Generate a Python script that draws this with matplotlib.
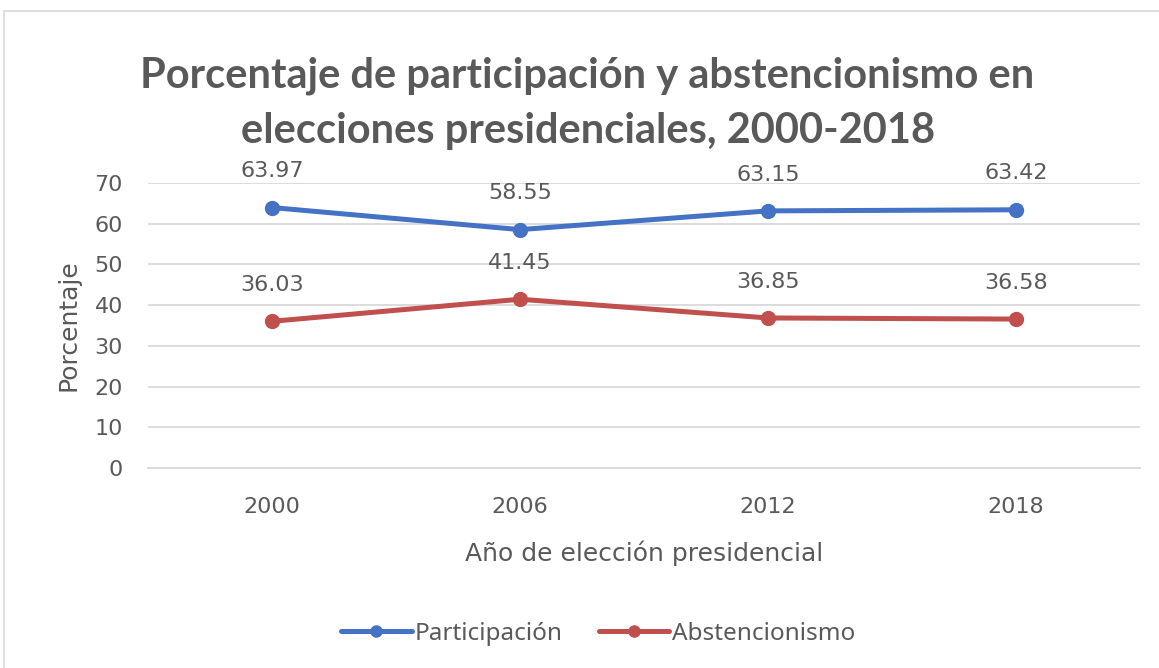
import matplotlib
matplotlib.use("Agg")
import matplotlib.pyplot as plt
from matplotlib.patches import Rectangle

years = ["2000", "2006", "2012", "2018"]
participacion = [63.97, 58.55, 63.15, 63.42]
abstencionismo = [36.03, 41.45, 36.85, 36.58]
yticks = [0, 10, 20, 30, 40, 50, 60, 70]

W, H = 1159, 668
fig = plt.figure(figsize=(W / 100, H / 100), dpi=100)
fig.patch.set_facecolor("white")
fig.patches.append(Rectangle((4 / W, 1 - 11 / H - 700 / H), 1.2, 700 / H,
                             transform=fig.transFigure, fill=False,
                             edgecolor="#D9D9D9", linewidth=1.2))

ax = fig.add_axes([148 / W, 1 - 468 / H, (1140 - 148) / W, (468 - 183) / H])
x = list(range(len(years)))
blue = "#4472C4"
red = "#C0504D"
ax.plot(x, participacion, color=blue, lw=3.6, marker="o", ms=10, label="Participación",
        solid_capstyle="round", zorder=3)
ax.plot(x, abstencionismo, color=red, lw=3.6, marker="o", ms=10, label="Abstencionismo",
        solid_capstyle="round", zorder=3)

font = "DejaVu Sans"
for xi, v in zip(x, participacion):
    ax.annotate(f"{v:.2f}", (xi, v), xytext=(0, 19), textcoords="offset points",
                ha="center", va="bottom", fontsize=16, color="#595959", family=font)
for xi, v in zip(x, abstencionismo):
    ax.annotate(f"{v:.2f}", (xi, v), xytext=(0, 19), textcoords="offset points",
                ha="center", va="bottom", fontsize=16, color="#595959", family=font)

ax.set_xlim(-0.5, len(years) - 0.5)
ax.set_ylim(0, 70)
ax.set_yticks(yticks)
ax.set_xticks(x)
ax.set_xticklabels(years)
ax.grid(axis="y", color="#D9D9D9", lw=1.3)
ax.set_axisbelow(True)
for s in ["top", "right", "left"]:
    ax.spines[s].set_visible(False)
ax.spines["bottom"].set_color("#D9D9D9")
ax.spines["bottom"].set_linewidth(1.3)
ax.tick_params(axis="both", length=0, labelsize=16, labelcolor="#595959")
for lab in ax.get_xticklabels() + ax.get_yticklabels():
    lab.set_family(font)
ax.tick_params(axis="x", pad=21)
ax.tick_params(axis="y", pad=18)
ax.set_ylabel("Porcentaje", fontsize=18, color="#595959", family=font, labelpad=10)
ax.set_xlabel("Año de elección presidencial", fontsize=18, color="#595959", family=font, labelpad=17)

fig.text(0.507, 1 - 76 / H, "Porcentaje de participación y abstencionismo en",
         ha="center", va="center", fontsize=30, fontweight="bold", color="#595959", family="Lato")
fig.text(0.507, 1 - 131 / H, "elecciones presidenciales, 2000-2018",
         ha="center", va="center", fontsize=30, fontweight="bold", color="#595959", family="Lato")

leg = fig.legend(loc="center", bbox_to_anchor=(598 / W, 1 - 634 / H), ncol=2, frameon=False,
                 prop={"family": "Noto Sans", "size": 17.5}, handlelength=2.9, columnspacing=1.5,
                 handletextpad=0.1, markerscale=0.8)
for t in leg.get_texts():
    t.set_color("#595959")

fig.savefig("out.png", dpi=100)
